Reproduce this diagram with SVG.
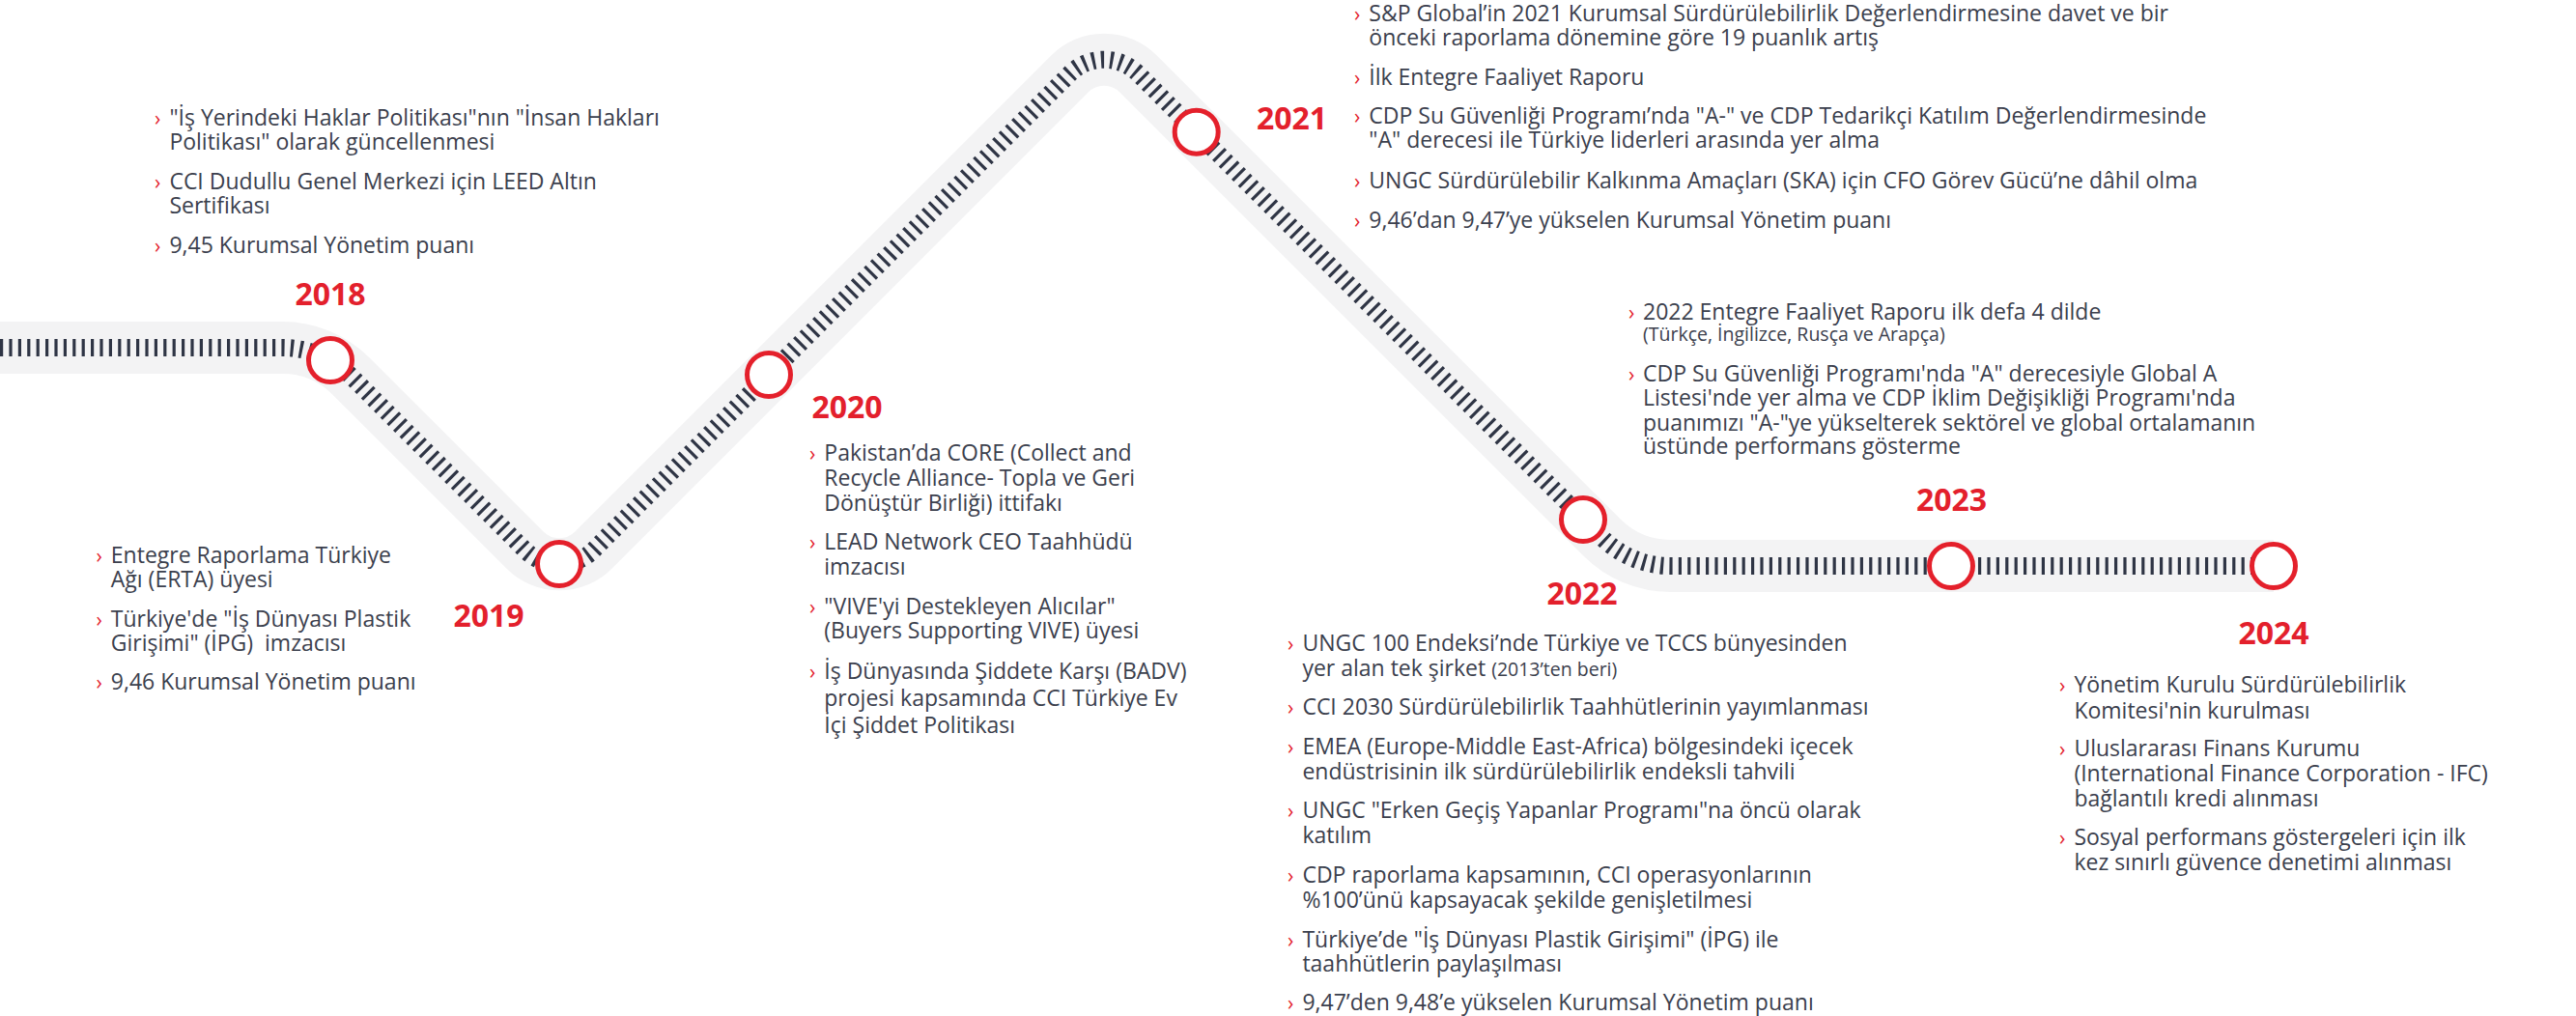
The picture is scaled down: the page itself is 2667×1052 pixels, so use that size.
<svg xmlns="http://www.w3.org/2000/svg" width="2667" height="1052" viewBox="0 0 2667 1052">
<style>
.t{font-family:"Open Sans","Noto Sans",sans-serif;font-size:23px;fill:#3b404d}
.s{font-size:19.5px}
.c{font-family:"Open Sans","Noto Sans",sans-serif;font-size:21px;fill:#e3202c}
.y{font-family:"Open Sans","Noto Sans",sans-serif;font-weight:700;font-size:32px;fill:#e3202c;text-anchor:middle}
.ring{fill:#ffffff;stroke:#e4202b;stroke-width:5}
.band{fill:none;stroke:#f3f3f4;stroke-width:54}
.ticks{fill:none;stroke:#2f3545;stroke-width:18;stroke-dasharray:3.2 6.2}
</style>
<rect width="2667" height="1052" fill="#ffffff"/>
<g id="connectors">
<path id="track" class="band" d="M 0 360 L 292.6 360 A 100 100 0 0 1 363.3 389.3 L 543.6 569.6 A 50 50 0 0 0 614.4 569.6 L 1107.6 76.4 A 50 50 0 0 1 1178.4 76.4 L 1658.7 556.7 A 100 100 0 0 0 1729.4 586 L 2354 586"/>
<path class="ticks" d="M 0 360 L 292.6 360 A 100 100 0 0 1 363.3 389.3 L 543.6 569.6 A 50 50 0 0 0 614.4 569.6 L 1107.6 76.4 A 50 50 0 0 1 1178.4 76.4 L 1658.7 556.7 A 100 100 0 0 0 1729.4 586 L 2354 586"/>
</g>
<g id="node-2018">
<circle class="ring" cx="342" cy="373" r="22.5"/>
<text class="y" x="342" y="316">2018</text>
<text class="c" x="160" y="130">›</text>
<text class="t" x="175.4" y="130">"İş Yerindeki Haklar Politikası"nın "İnsan Hakları<tspan x="175.4" y="155">Politikası" olarak güncellenmesi</tspan></text>
<text class="c" x="160" y="196">›</text>
<text class="t" x="175.4" y="196">CCI Dudullu Genel Merkezi için LEED Altın<tspan x="175.4" y="221">Sertifikası</tspan></text>
<text class="c" x="160" y="262">›</text>
<text class="t" x="175.4" y="262">9,45 Kurumsal Yönetim puanı</text>
</g>
<g id="node-2019">
<circle class="ring" cx="579" cy="584" r="22.5"/>
<text class="y" x="506" y="649">2019</text>
<text class="c" x="99.5" y="583">›</text>
<text class="t" x="114.8" y="583">Entegre Raporlama Türkiye<tspan x="114.8" y="608">Ağı (ERTA) üyesi</tspan></text>
<text class="c" x="99.5" y="649">›</text>
<text class="t" x="114.8" y="649" xml:space="preserve">Türkiye'de "İş Dünyası Plastik<tspan x="114.8" y="674">Girişimi" (İPG)  imzacısı</tspan></text>
<text class="c" x="99.5" y="714">›</text>
<text class="t" x="114.8" y="714">9,46 Kurumsal Yönetim puanı</text>
</g>
<g id="node-2020">
<circle class="ring" cx="796" cy="388" r="22.5"/>
<text class="y" x="877" y="433">2020</text>
<text class="c" x="838" y="477">›</text>
<text class="t" x="853.3" y="477">Pakistan’da CORE (Collect and<tspan x="853.3" y="503">Recycle Alliance- Topla ve Geri</tspan><tspan x="853.3" y="529">Dönüştür Birliği) ittifakı</tspan></text>
<text class="c" x="838" y="569">›</text>
<text class="t" x="853.3" y="569">LEAD Network CEO Taahhüdü<tspan x="853.3" y="595">imzacısı</tspan></text>
<text class="c" x="838" y="636">›</text>
<text class="t" x="853.3" y="636">"VIVE'yi Destekleyen Alıcılar"<tspan x="853.3" y="661">(Buyers Supporting VIVE) üyesi</tspan></text>
<text class="c" x="838" y="703">›</text>
<text class="t" x="853.3" y="703">İş Dünyasında Şiddete Karşı (BADV)<tspan x="853.3" y="731">projesi kapsamında CCI Türkiye Ev</tspan><tspan x="853.3" y="759">İçi Şiddet Politikası</tspan></text>
</g>
<g id="node-2021">
<circle class="ring" cx="1238.7" cy="136.7" r="22.5"/>
<text class="y" x="1337.5" y="134">2021</text>
<text class="c" x="1402" y="22">›</text>
<text class="t" x="1417.3" y="22">S&amp;P Global’in 2021 Kurumsal Sürdürülebilirlik Değerlendirmesine davet ve bir<tspan x="1417.3" y="47">önceki raporlama dönemine göre 19 puanlık artış</tspan></text>
<text class="c" x="1402" y="88">›</text>
<text class="t" x="1417.3" y="88">İlk Entegre Faaliyet Raporu</text>
<text class="c" x="1402" y="128">›</text>
<text class="t" x="1417.3" y="128">CDP Su Güvenliği Programı’nda "A-" ve CDP Tedarikçi Katılım Değerlendirmesinde<tspan x="1417.3" y="153">"A" derecesi ile Türkiye liderleri arasında yer alma</tspan></text>
<text class="c" x="1402" y="195">›</text>
<text class="t" x="1417.3" y="195">UNGC Sürdürülebilir Kalkınma Amaçları (SKA) için CFO Görev Gücü’ne dâhil olma</text>
<text class="c" x="1402" y="236">›</text>
<text class="t" x="1417.3" y="236">9,46’dan 9,47’ye yükselen Kurumsal Yönetim puanı</text>
</g>
<g id="node-2022">
<circle class="ring" cx="1639" cy="538" r="22.5"/>
<text class="y" x="1638" y="626">2022</text>
<text class="c" x="1686" y="331">›</text>
<text class="t" x="1701" y="331">2022 Entegre Faaliyet Raporu ilk defa 4 dilde<tspan class="s" x="1701" y="353">(Türkçe, İngilizce, Rusça ve Arapça)</tspan></text>
<text class="c" x="1686" y="395">›</text>
<text class="t" x="1701" y="395">CDP Su Güvenliği Programı'nda "A" derecesiyle Global A<tspan x="1701" y="420">Listesi'nde yer alma ve CDP İklim Değişikliği Programı'nda</tspan><tspan x="1701" y="445.5">puanımızı "A-"ye yükselterek sektörel ve global ortalamanın</tspan><tspan x="1701" y="470">üstünde performans gösterme</tspan></text>
<text class="c" x="1333" y="674">›</text>
<text class="t" x="1348.4" y="674">UNGC 100 Endeksi’nde Türkiye ve TCCS bünyesinden<tspan x="1348.4" y="699.5">yer alan tek şirket </tspan><tspan class="s">(2013’ten beri)</tspan></text>
<text class="c" x="1333" y="740">›</text>
<text class="t" x="1348.4" y="740">CCI 2030 Sürdürülebilirlik Taahhütlerinin yayımlanması</text>
<text class="c" x="1333" y="781">›</text>
<text class="t" x="1348.4" y="781">EMEA (Europe-Middle East-Africa) bölgesindeki içecek<tspan x="1348.4" y="806.5">endüstrisinin ilk sürdürülebilirlik endeksli tahvili</tspan></text>
<text class="c" x="1333" y="847">›</text>
<text class="t" x="1348.4" y="847">UNGC "Erken Geçiş Yapanlar Programı"na öncü olarak<tspan x="1348.4" y="872.5">katılım</tspan></text>
<text class="c" x="1333" y="914">›</text>
<text class="t" x="1348.4" y="914">CDP raporlama kapsamının, CCI operasyonlarının<tspan x="1348.4" y="939.5">%100’ünü kapsayacak şekilde genişletilmesi</tspan></text>
<text class="c" x="1333" y="980.5">›</text>
<text class="t" x="1348.4" y="980.5">Türkiye’de "İş Dünyası Plastik Girişimi" (İPG) ile<tspan x="1348.4" y="1006">taahhütlerin paylaşılması</tspan></text>
<text class="c" x="1333" y="1046">›</text>
<text class="t" x="1348.4" y="1046">9,47’den 9,48’e yükselen Kurumsal Yönetim puanı</text>
</g>
<g id="node-2023">
<circle class="ring" cx="2020" cy="586" r="22.5"/>
<text class="y" x="2020.5" y="529">2023</text>
</g>
<g id="node-2024">
<circle class="ring" cx="2354" cy="586" r="22.5"/>
<text class="y" x="2354" y="667">2024</text>
<text class="c" x="2132" y="717">›</text>
<text class="t" x="2147.4" y="717">Yönetim Kurulu Sürdürülebilirlik<tspan x="2147.4" y="743.5">Komitesi'nin kurulması</tspan></text>
<text class="c" x="2132" y="783">›</text>
<text class="t" x="2147.4" y="783">Uluslararası Finans Kurumu<tspan x="2147.4" y="809">(International Finance Corporation - IFC)</tspan><tspan x="2147.4" y="835">bağlantılı kredi alınması</tspan></text>
<text class="c" x="2132" y="875">›</text>
<text class="t" x="2147.4" y="875">Sosyal performans göstergeleri için ilk<tspan x="2147.4" y="901">kez sınırlı güvence denetimi alınması</tspan></text>
</g>
</svg>
